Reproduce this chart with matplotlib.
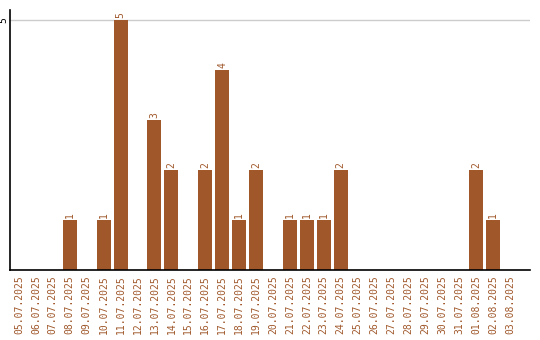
import matplotlib
matplotlib.use('Agg')
import matplotlib.pyplot as plt

dates = ["05.07.2025", "06.07.2025", "07.07.2025", "08.07.2025", "09.07.2025",
         "10.07.2025", "11.07.2025", "12.07.2025", "13.07.2025", "14.07.2025",
         "15.07.2025", "16.07.2025", "17.07.2025", "18.07.2025", "19.07.2025",
         "20.07.2025", "21.07.2025", "22.07.2025", "23.07.2025", "24.07.2025",
         "25.07.2025", "26.07.2025", "27.07.2025", "28.07.2025", "29.07.2025",
         "30.07.2025", "31.07.2025", "01.08.2025", "02.08.2025", "03.08.2025"]
counts = [0, 0, 0, 1, 0, 1, 5, 0, 3, 2,
          0, 2, 4, 1, 2, 0, 1, 1, 1, 2,
          0, 0, 0, 0, 0, 0, 0, 2, 1, 0]

bar_color = '#A0582B'
font = 'DejaVu Sans Mono'

fig = plt.figure(figsize=(5.4, 3.4), dpi=100)
ax = fig.add_axes([10/540, 70/340, 520/540, 260/340])

x = list(range(len(dates)))
ax.bar(x, counts, width=0.82, color=bar_color, zorder=2)

for i, v in enumerate(counts):
    if v > 0:
        ax.text(i, v + 0.05, str(v), rotation=90, ha='center', va='bottom',
                color=bar_color, fontsize=7, family=font)

ax.set_xlim(-0.53, 30.18)
ax.set_ylim(0, 5.2)
ax.set_yticks([5])
ax.set_yticklabels(['5'], rotation=90, va='center', fontsize=7, family=font)
ax.tick_params(axis='y', length=0, pad=1)
ax.grid(axis='y', color='#cccccc', linewidth=1, zorder=0)

ax.set_xticks(x)
ax.set_xticklabels(dates, rotation=90, fontsize=7, family=font, color=bar_color)
ax.tick_params(axis='x', length=0, pad=4)

ax.spines['top'].set_visible(False)
ax.spines['right'].set_visible(False)
ax.spines['left'].set_linewidth(1.2)
ax.spines['bottom'].set_linewidth(1.2)

fig.savefig('out.png', dpi=100)
